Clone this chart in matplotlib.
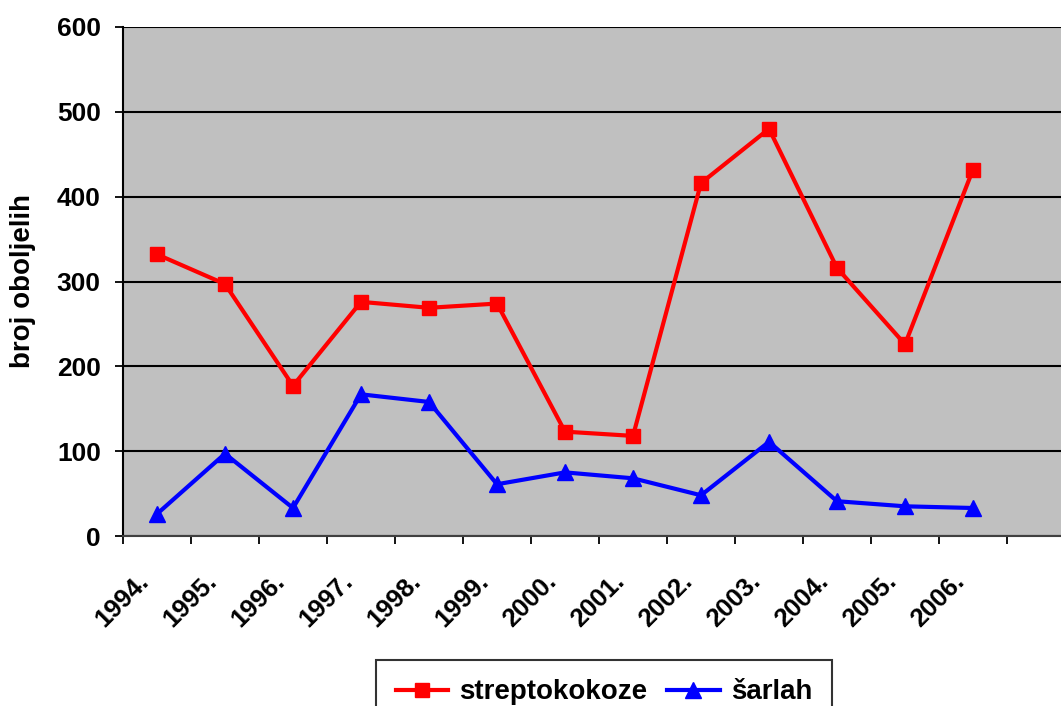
import numpy as np
import matplotlib.pyplot as plt
from matplotlib.transforms import ScaledTranslation

# Podaci (broj oboljelih po godinama)
godine = ['1994.', '1995.', '1996.', '1997.', '1998.', '1999.', '2000.',
          '2001.', '2002.', '2003.', '2004.', '2005.', '2006.']
streptokokoze = [332, 297, 177, 276, 269, 274, 123, 118, 416, 480, 316, 226, 432]
sarlah = [26, 97, 33, 167, 158, 61, 75, 68, 48, 111, 41, 35, 33]

plt.rcParams['font.family'] = ['Liberation Sans', 'DejaVu Sans']
plt.rcParams['font.weight'] = 'bold'

fig = plt.figure(figsize=(10.61, 7.06), dpi=100)
ax = fig.add_axes([123 / 1061, 1 - 536 / 706, (1075 - 123) / 1061, (536 - 27) / 706])
ax.set_facecolor('#C0C0C0')

x = np.arange(len(godine))
ax.plot(x, streptokokoze, color='#FF0000', lw=3, marker='s', ms=10,
        label='streptokokoze')
ax.plot(x, sarlah, color='#0000FF', lw=3, marker='^', ms=11,
        label='šarlah')

ax.set_ylim(0, 600)
ax.set_yticks(range(0, 601, 100))
ax.yaxis.grid(True, color='black', lw=1.5)
ax.set_axisbelow(True)
ax.set_xlim(-0.5, 13.5)

# oznake kategorija bez crtica, crtice između kategorija
ax.set_xticks(x)
ax.set_xticklabels(godine, rotation=45, ha='right', va='center',
                   rotation_mode='anchor', fontsize=18.5, fontweight='bold')
ax.tick_params(axis='x', which='major', length=0, pad=30)
pomak = ScaledTranslation(-12 / 100, 0, fig.dpi_scale_trans)
for t in ax.get_xticklabels():
    t.set_transform(t.get_transform() + pomak)
ax.set_xticks(np.arange(-0.5, 14, 1), minor=True)
ax.tick_params(axis='x', which='minor', length=6, width=1.3, direction='out')
ax.tick_params(axis='y', length=6, width=1.3, direction='out', labelsize=19, pad=10)
for t in ax.get_yticklabels():
    t.set_fontweight('bold')

for s in ['top', 'right']:
    ax.spines[s].set_visible(False)
ax.spines['left'].set_linewidth(1.5)
ax.spines['bottom'].set_linewidth(1.5)
ax.spines['bottom'].set_color('#404040')

ax.set_ylabel('broj oboljelih', fontsize=20, fontweight='bold', labelpad=15)

leg = fig.legend(loc='upper center', bbox_to_anchor=(604 / 1061, 1 - 660 / 706),
                 ncol=2, frameon=True, fancybox=False, edgecolor='black',
                 prop={'weight': 'bold', 'size': 20}, handlelength=1.9,
                 columnspacing=0.7, borderpad=0.7, handletextpad=0.4,
                 borderaxespad=0)
leg.get_frame().set_linewidth(1.5)

fig.savefig('out.png', dpi=100)
